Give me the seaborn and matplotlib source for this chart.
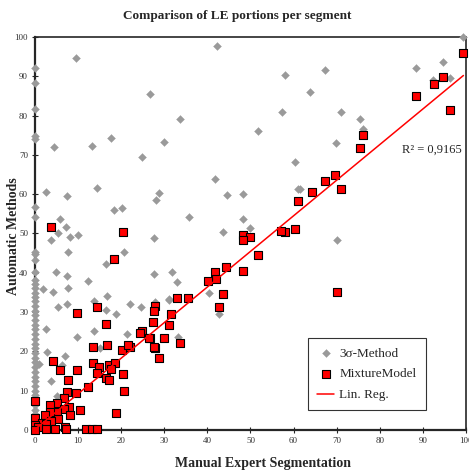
import numpy as np
import pandas as pd
import matplotlib
matplotlib.use("Agg")
import matplotlib.pyplot as plt
import seaborn as sns

# 3-sigma method: points sitting on the y axis (manual = 0)
sigma_zero_y = [92.0, 88.3, 81.7, 74.8, 74.1, 56.7, 54.3, 45.4, 44.7, 43.3, 40.1, 38.2,
                37.1, 36.1, 34.9, 33.9, 32.8, 31.6, 30.4, 29.2, 28.0, 26.8, 25.6, 24.4,
                23.2, 22.0, 20.8, 19.6, 18.4, 17.2, 16.0, 14.8, 13.6, 12.4, 11.2, 10.0,
                8.8, 7.6, 6.4, 5.2, 4.0, 2.8, 1.6, 0.4]

# 3-sigma method: remaining points
sigma_x = [9.5, 4.5, 13.2, 17.7, 24.8, 26.6, 42.2, 58.1, 33.7, 57.2, 30.0, 51.8, 60.3, 63.8,
           99.2, 67.3, 71.0, 88.4, 94.6, 96.3, 92.4, 75.4, 76.2, 69.8, 61.5, 70.0, 41.8, 28.8,
           28.0, 44.5, 48.3, 61.1, 35.7, 48.3, 43.6, 50.0, 27.7, 27.6, 31.8, 33.0, 40.3, 31.0,
           42.8, 2.6, 7.5, 14.5, 18.4, 20.3, 5.9, 7.1, 5.3, 3.7, 8.2, 9.9, 7.7, 20.6, 16.5,
           4.9, 7.4, 12.4, 1.9, 4.1, 7.7, 16.8, 13.6, 22.0, 24.5, 27.8, 31.2, 5.3, 7.5, 16.5,
           18.9, 2.5, 9.8, 13.7, 21.4, 33.1, 2.9, 7.0, 6.2, 1.0, 3.7, 5.0, 15.0]
sigma_y = [94.6, 71.9, 72.3, 74.4, 69.5, 85.4, 97.6, 90.4, 79.1, 81.0, 73.3, 76.1, 68.1, 85.9,
           100.0, 91.6, 80.9, 92.0, 93.7, 89.5, 89.1, 79.2, 76.5, 73.0, 61.3, 48.3, 63.9, 60.2,
           58.4, 59.8, 60.1, 61.2, 54.2, 53.6, 50.4, 51.3, 48.9, 39.6, 40.2, 37.7, 34.8, 33.1,
           29.5, 60.6, 59.5, 61.6, 55.9, 56.4, 53.7, 51.7, 50.0, 48.3, 49.2, 49.5, 45.4, 45.2,
           42.2, 40.2, 39.1, 37.9, 35.8, 35.1, 36.2, 34.0, 32.7, 32.1, 31.4, 32.6, 33.3, 31.2,
           32.1, 30.5, 29.5, 25.7, 23.7, 25.2, 24.4, 23.7, 19.8, 18.8, 16.5, 16.7, 12.5, 8.7,
           20.8]

# mixture model
mix_x = [99.3, 96.3, 94.6, 92.6, 88.4, 76.1, 75.4, 69.6, 67.3, 64.3, 71.0, 61.0, 70.0, 60.3,
         58.0, 57.1, 48.3, 49.9, 48.3, 51.7, 44.3, 48.3, 41.8, 42.0, 40.1, 43.6, 35.5, 32.9,
         42.7, 27.8, 27.6, 31.6, 27.4, 31.1, 26.7, 29.9, 33.6, 27.8, 28.8, 24.8, 24.4, 26.5,
         22.0, 27.6, 3.7, 20.4, 18.3, 14.4, 9.7, 16.5,
         13.5, 16.8, 20.3, 21.5, 4.1, 5.9, 9.7, 13.5, 14.9, 17.2, 18.6, 17.6, 14.4, 20.5,
         16.4, 17.2, 7.7, 12.3, 9.4, 7.4, 20.6, 0.0, 6.8, 5.2, 3.5, 8.0, 6.7, 10.4, 5.2, 3.4,
         2.3, 0.0, 8.1, 5.3, 3.6, 1.6, 2.6, 0.0, 0.8, 6.9, 7.2, 4.6, 2.6, 0.0, 18.8, 11.8,
         13.2, 14.4]
mix_y = [95.9, 81.4, 89.8, 88.0, 85.0, 75.1, 71.8, 64.9, 63.4, 60.6, 61.3, 58.3, 35.2, 51.1,
         50.4, 50.6, 49.6, 49.1, 48.3, 44.5, 41.5, 40.5, 40.2, 38.4, 37.9, 34.6, 33.6, 33.6,
         31.3, 31.6, 30.3, 29.5, 27.5, 26.7, 23.4, 23.4, 22.1, 20.9, 18.3, 25.2, 24.7, 23.4,
         21.1, 21.1, 51.7, 50.4, 43.5, 31.3, 29.8, 26.9,
         21.2, 21.5, 20.4, 21.5, 17.6, 15.2, 15.3, 17.0, 16.1, 16.5, 17.0, 15.5, 14.4, 14.2,
         13.2, 12.7, 12.6, 11.0, 9.5, 9.7, 10.0, 7.4, 8.1, 6.8, 6.3, 5.9, 5.3, 5.1, 4.5, 4.6,
         3.8, 3.0, 3.7, 2.7, 2.4, 1.9, 1.5, 1.3, 0.8, 0.7, 0.3, 0.2, 0.2, 0.0, 4.4, 0.2,
         0.2, 0.2]

# linear regression
reg_slope = 0.906
reg_intercept = 0.15
reg_x = [0.0, 99.4]
r2_text = "R² = 0,9165"

sigma_df = pd.DataFrame({"manual": [0.0] * len(sigma_zero_y) + sigma_x,
                         "auto": sigma_zero_y + sigma_y})
mix_df = pd.DataFrame({"manual": mix_x, "auto": mix_y})
reg_df = pd.DataFrame({"manual": reg_x})
reg_df["auto"] = reg_intercept + reg_slope * reg_df["manual"]

sns.set_style("ticks")
plt.rcParams["font.family"] = ["Liberation Serif", "DejaVu Serif"]

fig = plt.figure(figsize=(4.69, 4.72), dpi=100)
ax = fig.add_axes([0.0746, 0.089, 0.919, 0.8326])

sns.scatterplot(data=sigma_df, x="manual", y="auto", ax=ax, marker="D", s=16,
                color="#9a9a9a", edgecolor="#9a9a9a", linewidth=0.3, label="3σ-Method",
                clip_on=False, zorder=3)
sns.scatterplot(data=mix_df, x="manual", y="auto", ax=ax, marker="s", s=32,
                color="#ff0000", edgecolor="black", linewidth=0.8, label="MixtureModel",
                clip_on=False, zorder=4)
sns.lineplot(data=reg_df, x="manual", y="auto", ax=ax, color="#ff0000", linewidth=1.1,
             label="Lin. Reg.", zorder=5)

ax.set_xlim(0, 100)
ax.set_ylim(0, 100)
ax.set_xticks(np.arange(0, 101, 10))
ax.set_yticks(np.arange(0, 101, 10))
ax.tick_params(direction="inout", length=4, width=0.8, labelsize=6.5, pad=3,
               labelcolor="#333333")
for side in ["top", "right"]:
    ax.spines[side].set_visible(True)
    ax.spines[side].set_linewidth(1.2)
for side in ["left", "bottom"]:
    ax.spines[side].set_linewidth(1.6)
ax.set_xlabel("")
ax.set_ylabel("")

ax.text(85.1, 71.2, r2_text, fontsize=9, ha="left", va="center")

leg = ax.legend(loc="upper left", bbox_to_anchor=(0.633, 0.234), borderaxespad=0,
                frameon=True, fancybox=False, edgecolor="black", fontsize=9.5,
                borderpad=0.7, labelspacing=0.65, handlelength=1.3, handletextpad=0.4)
leg.get_frame().set_linewidth(0.8)

fig.text(0.505, 0.966, "Comparison of LE portions per segment", ha="center", va="center",
         fontsize=9.5, fontweight="bold")
fig.text(0.56, 0.019, "Manual Expert Segmentation", ha="center", va="center",
         fontsize=10, fontweight="bold")
fig.text(0.028, 0.50, "Automatic Methods", ha="center", va="center", rotation=90,
         fontsize=10, fontweight="bold")

fig.savefig("out.png", dpi=100)
